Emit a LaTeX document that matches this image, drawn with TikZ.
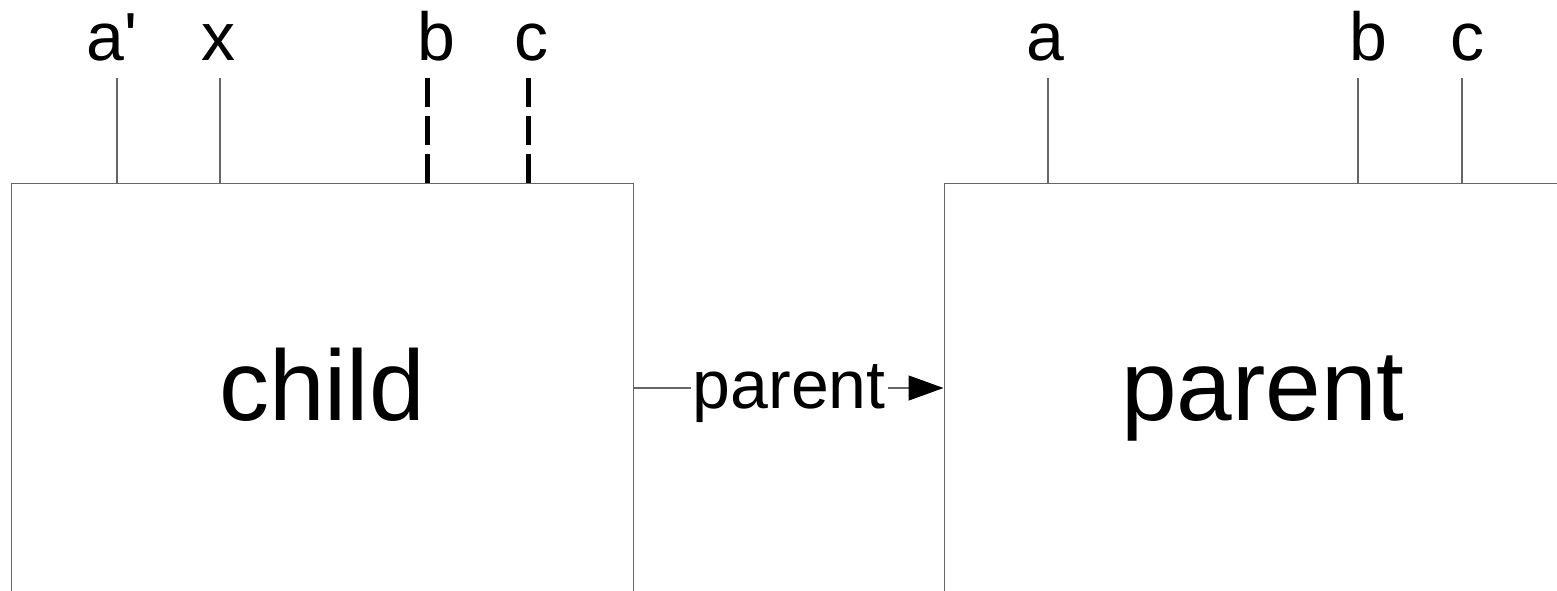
\documentclass[tikz,border=0pt]{standalone}
\usepackage{fontspec}
\setmainfont{Liberation Sans}
\usetikzlibrary{arrows.meta}
\begin{document}
\begin{tikzpicture}[x=1pt,y=-1pt,
  boxline/.style={draw=black!60,line width=1.3pt},
  tick/.style={draw=black!60,line width=1.1pt},
  dashtick/.style={draw=black,line width=5pt,dash pattern=on 29pt off 9pt},
  biglabel/.style={anchor=base,inner sep=0pt,font=\fontsize{100}{110}\selectfont},
  smalllabel/.style={anchor=base,inner sep=0pt,font=\fontsize{68}{78}\selectfont},
  conn/.style={draw=black!60,line width=1.3pt}]
\useasboundingbox (0,0) rectangle (1557,590);
\clip (0,0) rectangle (1557,590);
\fill[white] (0,0) rectangle (1557,590);
% boxes
\node[boxline,anchor=north west,minimum width=622pt,minimum height=600pt,inner sep=0pt] (childbox) at (11,183) {};
\node[boxline,anchor=north west,minimum width=700pt,minimum height=600pt,inner sep=0pt] (parentbox) at (944,183) {};
% box texts
\node[biglabel] (childtxt) at (322,420) {child};
\node[biglabel] (parenttxt) at (1263,420) {parent};
% child top labels
\node[smalllabel] (la) at (112,60) {a\textquotesingle};
\node[smalllabel] (lx) at (218,60) {x};
\node[smalllabel] (lb) at (436,60) {b};
\node[smalllabel] (lc) at (531,60) {c};
\coordinate (ta) at (117,78);
\coordinate (tx) at (220,78);
\coordinate (tb) at (427,78);
\coordinate (tc) at (528,78);
\draw[tick] (ta) -- (ta |- childbox.north);
\draw[tick] (tx) -- (tx |- childbox.north);
\draw[dashtick] (tb) -- (tb |- childbox.north);
\draw[dashtick] (tc) -- (tc |- childbox.north);
% parent top labels
\node[smalllabel] (pa) at (1045,60) {a};
\node[smalllabel] (pb) at (1368,60) {b};
\node[smalllabel] (pc) at (1467,60) {c};
\coordinate (qa) at (1048,78);
\coordinate (qb) at (1358,78);
\coordinate (qc) at (1462,78);
\draw[tick] (qa) -- (qa |- parentbox.north);
\draw[tick] (qb) -- (qb |- parentbox.north);
\draw[tick] (qc) -- (qc |- parentbox.north);
% connector
\coordinate (ay) at (0,388);
\draw[conn,-{Triangle[length=35pt,width=25pt,color=black]},shorten >=0.5pt] (childbox.east |- ay) -- node[fill=white,inner xsep=2pt,inner ysep=0pt,font=\fontsize{68}{78}\selectfont,yshift=-6pt] (edgetxt) {parent} (parentbox.west |- ay);
\end{tikzpicture}
\end{document}
